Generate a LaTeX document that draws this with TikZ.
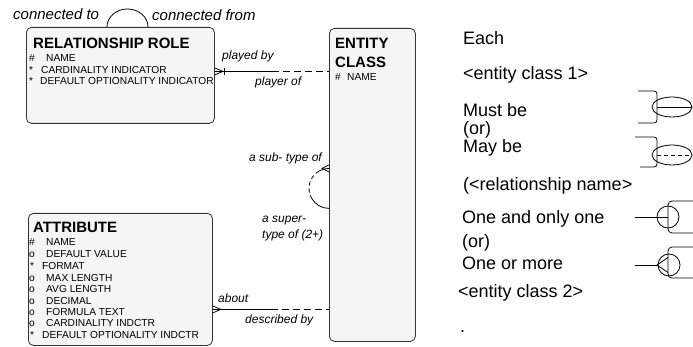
\documentclass[tikz,border=0pt]{standalone}
\usepackage{fontspec}
\setmainfont{Liberation Sans}
\usetikzlibrary{calc}
\begin{document}
\begin{tikzpicture}[x=1pt,y=-1pt,
  ent/.style={draw=black!80, fill=black!4, rounded corners=5pt, line width=0.8pt, inner sep=0, anchor=north west},
  ttl/.style={inner sep=0, anchor=west, text height=10.7pt, text depth=0pt, font=\fontsize{15}{15}\selectfont\bfseries},
  att/.style={inner sep=0, anchor=west, text height=7.3pt, text depth=0pt, font=\fontsize{10.2}{10}\selectfont},
  rl/.style={inner sep=0, anchor=west, font=\fontsize{12}{12}\selectfont\itshape},
  tl/.style={inner sep=0, anchor=west, font=\fontsize{15}{15}\selectfont\itshape},
  lg/.style={inner sep=0, anchor=west, text height=12.9pt, text depth=0pt, font=\fontsize{18}{18}\selectfont},
  ln/.style={line width=0.8pt},
  dsh/.style={line width=0.8pt, dash pattern=on 7pt off 4pt},
  dshs/.style={line width=0.8pt, dash pattern=on 4pt off 3pt},
]
\useasboundingbox (0,0) rectangle (693,347);

% entity boxes
\node[ent, minimum width=188pt, minimum height=96pt] (rr) at (26,27) {};
\node[ent, minimum width=86pt, minimum height=313pt] (ec) at (329,28) {};
\node[ent, minimum width=184pt, minimum height=132pt] (attr) at (28,213) {};

% relationship role text
\node[ttl] (rrt) at (33,43) {RELATIONSHIP ROLE};
\node[att] (rrm1) at (29,58) {\#};  \node[att] (rra1) at (46,58) {NAME};
\node[att] (rrm2) at (29,70) {*};   \node[att] (rra2) at (41,70) {CARDINALITY INDICATOR};
\node[att] (rrm3) at (29,81) {*};   \node[att] (rra3) at (40,81) {DEFAULT OPTIONALITY INDICATOR};

% entity class text
\node[ttl] (ect1) at (335,43) {ENTITY};
\node[ttl] (ect2) at (335,62) {CLASS};
\node[att] (ecm1) at (335,77) {\#}; \node[att] (eca1) at (347,77) {NAME};

% attribute text
\node[ttl] (att0) at (33,227) {ATTRIBUTE};
\node[att] (am1) at (29,242) {\#}; \node[att] (aa1) at (46,242) {NAME};
\node[att] (am2) at (29,254) {o};  \node[att] (aa2) at (46,254) {DEFAULT VALUE};
\node[att] (am3) at (30,266) {*};  \node[att] (aa3) at (42,266) {FORMAT};
\node[att] (am4) at (29,278) {o};  \node[att] (aa4) at (46,278) {MAX LENGTH};
\node[att] (am5) at (29,289) {o};  \node[att] (aa5) at (46,289) {AVG LENGTH};
\node[att] (am6) at (29,301) {o};  \node[att] (aa6) at (46,301) {DECIMAL};
\node[att] (am7) at (29,312) {o};  \node[att] (aa7) at (46,312) {FORMULA TEXT};
\node[att] (am8) at (29,323) {o};  \node[att] (aa8) at (46,323) {CARDINALITY INDCTR};
\node[att] (am9) at (30,335) {*};  \node[att] (aa9) at (42,335) {DEFAULT OPTIONALITY INDCTR};

% recursive loop on relationship role
\draw[ln] (rr.north west) ++(81,0) coordinate (lpA)
  arc[start angle=180, end angle=360, x radius=20.5, y radius=18] coordinate (lpB);
\node[tl] (lct) at (13,14) {connected to};
\node[tl] (lcf) at (152,15) {connected from};

% played by / player of
\path (rr.east) ++(0,-4) coordinate (pbA);
\path (ec.west |- pbA) coordinate (pbB);
\draw[ln] (pbA) -- ($(pbA)!0.5!(pbB)$) coordinate (pbM);
\draw[dsh] (pbM) -- (pbB);
\draw[ln] ($(pbA)+(0,-3.5)$) -- ($(pbA)+(8,0)$) -- ($(pbA)+(0,3.5)$);
\draw[ln] ($(pbA)+(10,-3.5)$) -- ($(pbA)+(10,3.5)$);
\node[rl] (lpb) at (222,56) {played by};
\node[rl] (lpo) at (255,82) {player of};

% about / described by
\path (attr.east) ++(0,30) coordinate (abA);
\path (ec.west |- abA) coordinate (abB);
\draw[ln] (abA) -- ($(abA)!0.5!(abB)$) coordinate (abM);
\draw[dsh] (abM) -- (abB);
\draw[ln] ($(abA)+(0,-3.5)$) -- ($(abA)+(8,0)$) -- ($(abA)+(0,3.5)$);
\node[rl] (lab) at (218,298) {about};
\node[rl] (ldb) at (245,320) {described by};

% subtype loop
\path (ec.west) ++(0,-16.5) coordinate (stA);
\draw[ln] (stA) arc[start angle=270, end angle=240, radius=20] coordinate (st1);
\draw[dshs] (st1) arc[start angle=240, end angle=150, radius=20] coordinate (st2);
\draw[ln] (st2) arc[start angle=150, end angle=90, radius=20] coordinate (stB);
\draw[ln] ($(stA)+(0,-3.5)$) -- ($(stA)+(-7,0)$) -- ($(stA)+(0,3.5)$);
\node[rl, anchor=east] (lst) at (322,158) {a sub- type of};
\node[rl] (lsp1) at (262,221) {a super-};
\node[rl] (lsp2) at (262,235) {type of (2+)};

% legend text
\node[lg] (g1) at (463,38) {Each};
\node[lg] (g2) at (463,73) {<entity class 1>};
\node[lg] (g3) at (463,110) {Must be};
\node[lg] (g4) at (463,128.5) {(or)};
\node[lg] (g5) at (463,146) {May be};
\node[lg] (g6) at (463,184) {(<relationship name>};
\node[lg] (g7) at (462,217) {One and only one};
\node[lg] (g8) at (462,241) {(or)};
\node[lg] (g9) at (462,263) {One or more};
\node[lg] (g10) at (458,291) {<entity class 2>};
\node[lg] (g11) at (460,326.5) {.};

% legend symbols: must be
\draw[ln, rounded corners=3pt] (638,91) -- (657,91) -- (657,123) -- (638,123);
\draw[ln] (672,107) ellipse[x radius=20, y radius=10];
\draw[ln] (657,107) -- (692,107);
% may be
\draw[ln, rounded corners=3pt] (635,137) -- (657,137) -- (657,167) -- (640,167);
\draw[ln] (672,155) ellipse[x radius=20, y radius=10];
\draw[dshs] (657,155) -- (692,155);
% one and only one
\draw[ln] (635,217) -- (668,217);
\draw[ln] (668,217) circle[radius=11];
\draw[ln, rounded corners=4pt] (693,201) -- (668,201) -- (668,233) -- (693,233);
% one or more
\draw[ln] (635,265) -- (657,265);
\draw[ln] (669,265) circle[radius=11];
\draw[ln] (668,257.5) -- (657,265) -- (668,272.5);
\draw[ln, rounded corners=4pt] (693,247) -- (668,247) -- (668,278) -- (693,278);
\end{tikzpicture}
\end{document}
